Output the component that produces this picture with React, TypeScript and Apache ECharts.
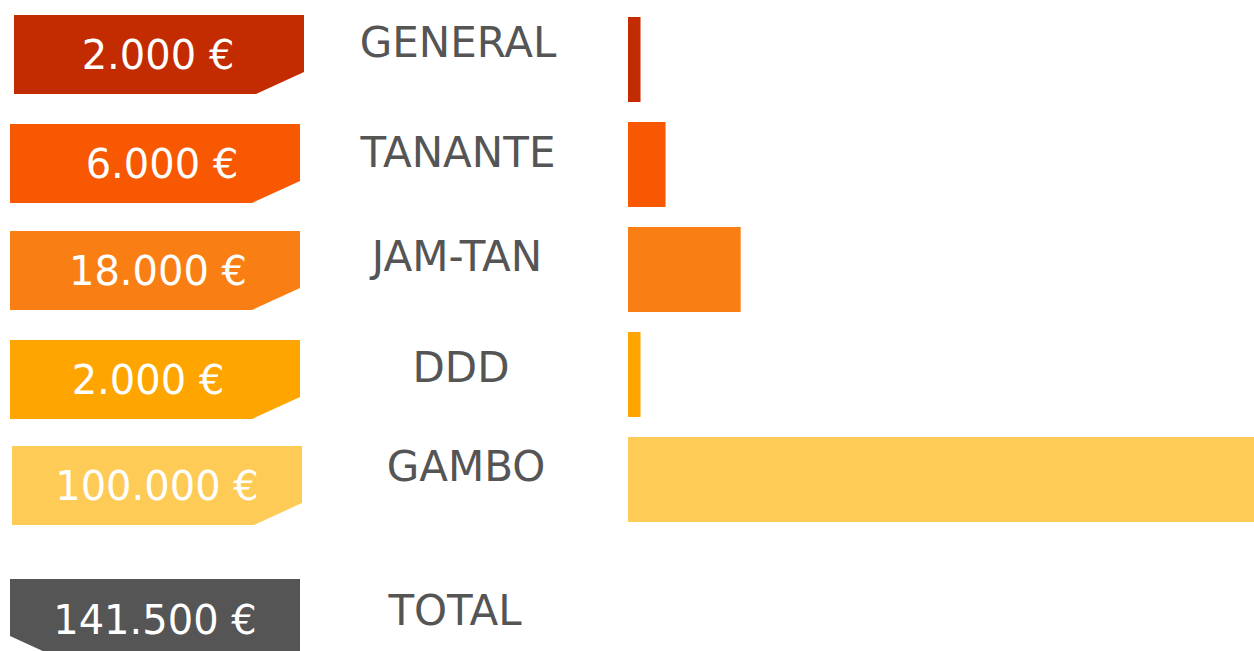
import React, { useEffect, useRef } from "react";
import * as echarts from "echarts";

const categories = ["GENERAL", "TANANTE", "JAM-TAN", "DDD", "GAMBO"];
const values = [2000, 6000, 18000, 2000, 100000];
const valueLabels = ["2.000 €", "6.000 €", "18.000 €", "2.000 €", "100.000 €"];
const totalLabel = "TOTAL";
const totalValueLabel = "141.500 €";
const colors = ["#C22C00", "#F75801", "#F97F15", "#FFA500", "#FECB57"];
const totalColor = "#555555";

// layout of the left-hand tags and names
const boxLeft = [14, 10, 10, 10, 12, 10];
const boxTop = [15, 124, 231, 340, 446, 579];
const valueCx = [158, 162, 158, 148, 157, 155];
const nameCx = [458, 458, 457, 461, 466, 455];
const nameCy = [42, 152, 256, 367, 466, 610];

const FONT = "'DejaVu Sans', sans-serif";
const BOX_W = 290;
const BOX_H = 79;
const CUT_W = 48;
const CUT_H = 22;

export default function App() {
  const ref = useRef<HTMLDivElement>(null);
  useEffect(() => {
    if (!ref.current) return;
    const chart = echarts.init(ref.current, null, { renderer: "svg" });
    const allValueLabels = [...valueLabels, totalValueLabel];
    const allNames = [...categories, totalLabel];
    const allColors = [...colors, totalColor];
    const graphics: any[] = [];
    allNames.forEach((name, i) => {
      const x = boxLeft[i];
      const y = boxTop[i];
      const isTotal = i === allNames.length - 1;
      const pts = isTotal
        ? [
            [x, y],
            [x + BOX_W, y],
            [x + BOX_W, y + BOX_H],
            [x + CUT_W, y + BOX_H],
            [x, y + BOX_H - CUT_H],
          ]
        : [
            [x, y],
            [x + BOX_W, y],
            [x + BOX_W, y + BOX_H - CUT_H],
            [x + BOX_W - CUT_W, y + BOX_H],
            [x, y + BOX_H],
          ];
      graphics.push({
        type: "polygon",
        shape: { points: pts },
        style: { fill: allColors[i] },
        silent: true,
      });
      graphics.push({
        type: "text",
        x: valueCx[i],
        y: isTotal ? y + 41 : y + BOX_H / 2,
        style: {
          text: allValueLabels[i],
          fill: "#ffffff",
          font: `normal 40px ${FONT}`,
          textAlign: "center",
          textVerticalAlign: "middle",
        },
        silent: true,
      });
      graphics.push({
        type: "text",
        x: nameCx[i],
        y: nameCy[i],
        style: {
          text: name,
          fill: "#555555",
          font: `normal 42px ${FONT}`,
          textAlign: "center",
          textVerticalAlign: "middle",
        },
        silent: true,
      });
    });

    chart.setOption({
      animation: false,
      grid: { left: 628, top: 7, width: 628, height: 525 },
      xAxis: { type: "value", min: 0, max: 100000, show: false },
      yAxis: {
        type: "category",
        data: categories,
        inverse: true,
        show: false,
      },
      series: [
        {
          type: "bar",
          barWidth: 85,
          data: values.map((v, i) => ({ value: v, itemStyle: { color: colors[i] } })),
          silent: true,
        },
      ],
      graphic: graphics,
    });
    return () => chart.dispose();
  }, []);
  return (
    <div
      ref={ref}
      style={{ position: "fixed", left: 0, top: 0, width: 1254, height: 651, background: "#fff" }}
    />
  );
}
